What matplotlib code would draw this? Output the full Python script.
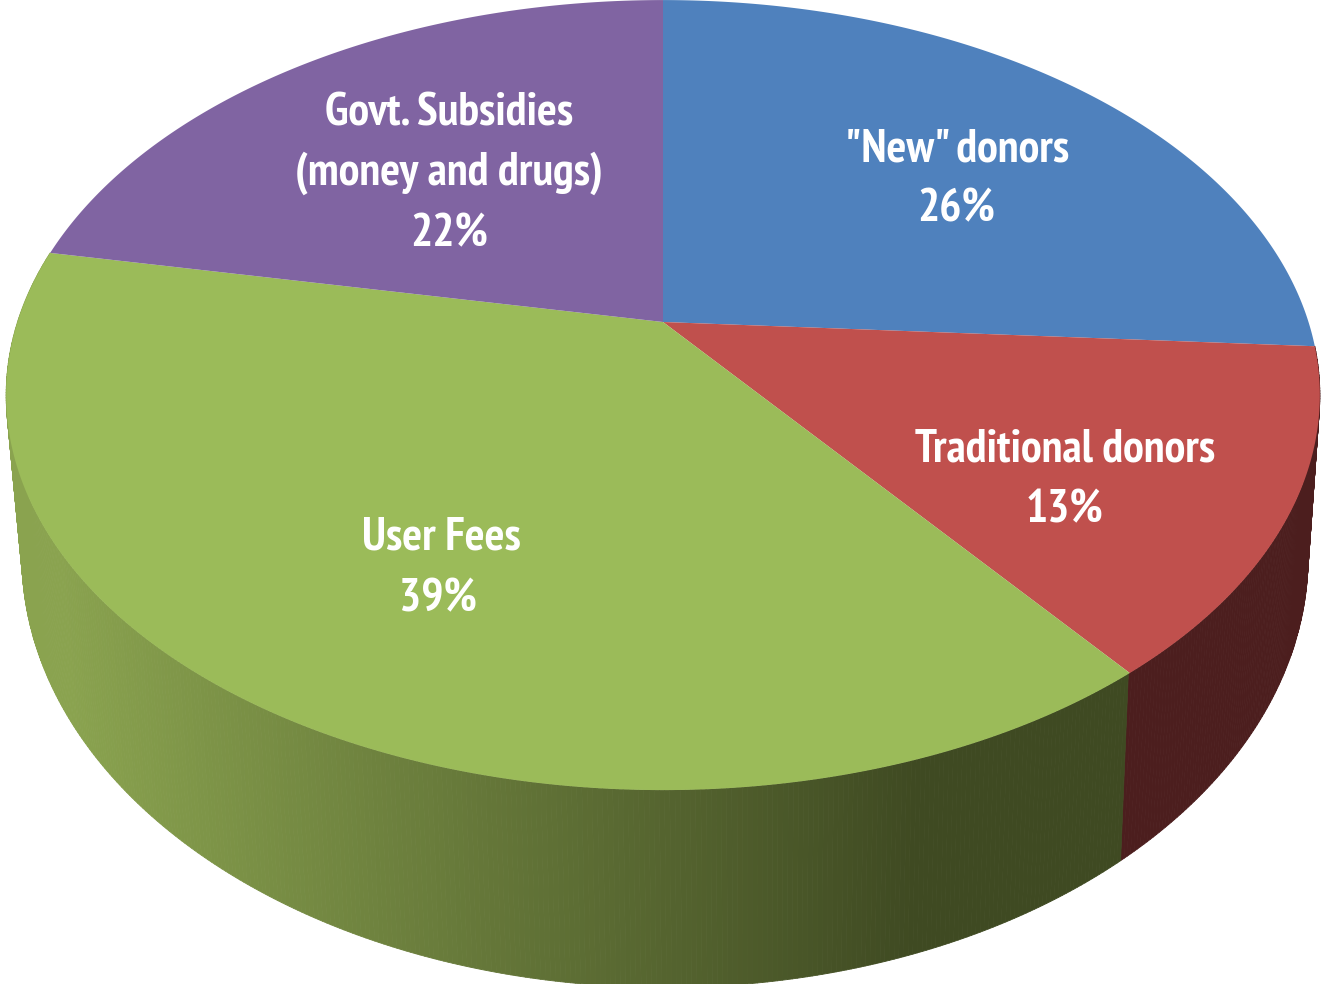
import matplotlib
matplotlib.use('Agg')
import matplotlib.pyplot as plt
from matplotlib.collections import PolyCollection
import numpy as np

names = ['"New" donors', 'Traditional donors', 'User Fees', 'Govt. Subsidies\n(money and drugs)']
shares = [26.0, 13.4, 38.6, 22.0]
printed = ['26%', '13%', '39%', '22%']
colors = ['#4F81BD', '#C0504D', '#9BBB59', '#8064A2']

plt.rcParams['font.family'] = ['PT Sans Narrow', 'Lato', 'DejaVu Sans']


def ring(t, cx, cy, a, b, k):
	# perspective view of a circle, t is the angle clockwise from 12 o'clock
	x = np.sin(t)
	y = np.cos(t)
	w = 1 + k * y
	return cx + a * x / w, cy - b * y / w


top = dict(cx=663, cy=322, a=645.5, b=381.5, k=0.185)
bottom = dict(cx=665, cy=477, a=632, b=416, k=0.185)

fig = plt.figure(figsize=(13.21, 9.84), dpi=100)
ax = fig.add_axes([0, 0, 1, 1])
ax.set_xlim(0, 1321)
ax.set_ylim(984, 0)
ax.axis('off')

edges = np.cumsum([0] + shares) / sum(shares) * 2 * np.pi

# side wall, red part is flat and green part darkens from left to right
wall_light = np.array([138, 163, 79]) / 255
wall_dark = np.array([63, 74, 34]) / 255
quads = []
quad_colors = []
ts = np.linspace(edges[1], edges[3], 500)
for t0, t1 in zip(ts[:-1], ts[1:]):
	x0, y0 = ring(t0, **top)
	x1, y1 = ring(t1, **top)
	x2, y2 = ring(t1, **bottom)
	x3, y3 = ring(t0, **bottom)
	quads.append([(x0, y0), (x1, y1), (x2, y2), (x3, y3)])
	if t0 < edges[2]:
		quad_colors.append('#4C1E1E')
	else:
		f = np.clip((x0 - 60) / 860, 0, 1)
		quad_colors.append(wall_light + (wall_dark - wall_light) * f)
ax.add_collection(PolyCollection(quads, facecolors=quad_colors, edgecolors=quad_colors, linewidths=0.6))

# top face
for i in range(len(shares)):
	t = np.linspace(edges[i], edges[i + 1], 300)
	x, y = ring(t, **top)
	ax.fill(np.r_[top['cx'], x], np.r_[top['cy'], y], color=colors[i], lw=0)

label_font = dict(color='white', fontsize=33.5, fontweight='bold', ha='center', va='center')
ax.text(957, 149, names[0], **label_font)
ax.text(956, 209, printed[0], **label_font)
ax.text(1065, 449, names[1], **label_font)
ax.text(1065, 510, printed[1], **label_font)
ax.text(441, 537, names[2], **label_font)
ax.text(438, 599, printed[2], **label_font)
ax.text(449, 113, names[3].split('\n')[0], **label_font)
ax.text(449, 173, names[3].split('\n')[1], **label_font)
ax.text(449, 234, printed[3], **label_font)

fig.savefig('out.png', dpi=100)
